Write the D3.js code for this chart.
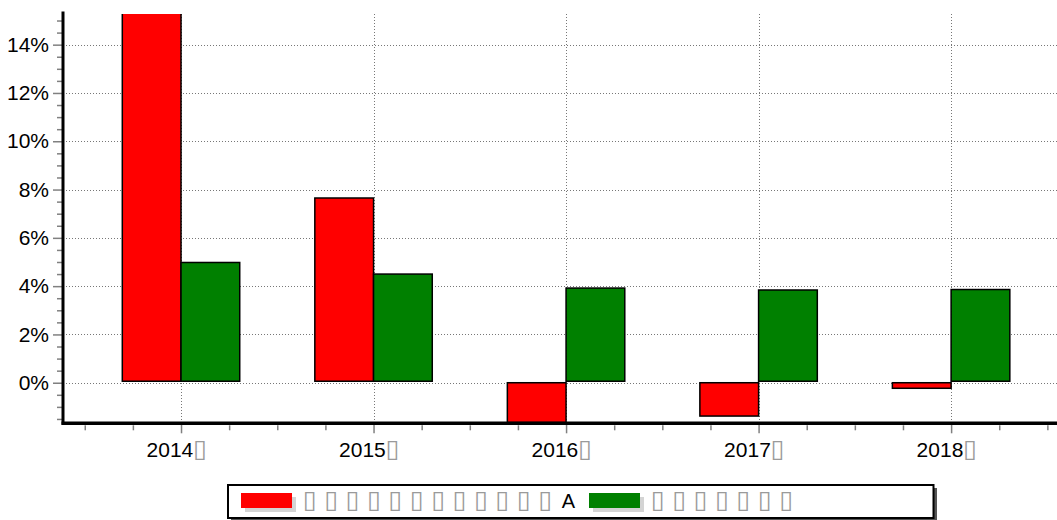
<!DOCTYPE html>
<html>
<head>
<meta charset="utf-8">
<script src="https://cdn.jsdelivr.net/npm/d3@7"></script>
<style>
    body { margin: 0; background: #fff; }
    text { font-family: "Liberation Sans", Arial, sans-serif; }
    .tofu { font-family: "DejaVu Sans", sans-serif; fill: #9a9a9a; }
</style>
</head>
<body>
<svg id="chart" width="1057" height="520"></svg>
<script>
// values (percent)
var years = [2014, 2015, 2016, 2017, 2018];
var seriesA = [18.0, 7.65, -1.65, -1.38, -0.23];   // red
var seriesB = [4.98, 4.5, 3.92, 3.84, 3.86];       // green
var yTicks = [0, 2, 4, 6, 8, 10, 12, 14];
var yearSuffix = "\u25AF";
var legendA = ["\u25AF", "\u25AF", "\u25AF", "\u25AF", "\u25AF", "\u25AF", "\u25AF", "\u25AF", "\u25AF", "\u25AF", "\u25AF", "\u25AF", "A"];
var legendB = ["\u25AF", "\u25AF", "\u25AF", "\u25AF", "\u25AF", "\u25AF", "\u25AF"];
var colors = ["#ff0000", "#008000"];

var plot = {left: 63, right: 1057, top: 14, bottom: 423.3};

var svg = d3.select("#chart");

var x = d3.scaleLinear()
    .domain([2013.387, 2018.55])
    .range([plot.left, plot.right]);

var y = d3.scaleLinear()
    .domain([-1.68, 15.27])
    .range([plot.bottom, plot.top]);

var barW = 0.305; // in years

svg.append("defs").append("clipPath")
    .attr("id", "clip")
    .append("rect")
    .attr("x", plot.left)
    .attr("y", plot.top)
    .attr("width", plot.right - plot.left)
    .attr("height", plot.bottom - plot.top);

// grid
var grid = svg.append("g")
    .attr("stroke", "#777")
    .attr("stroke-width", 1)
    .attr("stroke-dasharray", "1,2");

grid.selectAll(".hg")
    .data(yTicks)
    .enter()
    .append("line")
    .attr("x1", plot.left)
    .attr("x2", plot.right)
    .attr("y1", function(d) { return Math.round(y(d)) + 0.5; })
    .attr("y2", function(d) { return Math.round(y(d)) + 0.5; });

grid.selectAll(".vg")
    .data(years)
    .enter()
    .append("line")
    .attr("x1", function(d) { return Math.round(x(d)) + 0.5; })
    .attr("x2", function(d) { return Math.round(x(d)) + 0.5; })
    .attr("y1", plot.top)
    .attr("y2", plot.bottom);

// bars
var bars = svg.append("g").attr("clip-path", "url(#clip)");

[seriesA, seriesB].forEach(function(series, si) {
    bars.selectAll(".s" + si)
        .data(series)
        .enter()
        .append("rect")
        .attr("x", function(d, i) { return x(years[i] - barW + si * barW); })
        .attr("width", function(d, i) { return x(years[i] + barW) - x(years[i]); })
        .attr("y", function(d) { return d >= 0 ? y(d) : y(0); })
        .attr("height", function(d) { return d >= 0 ? y(0) - y(d) - 1.5 : y(d) - y(0); })
        .attr("fill", colors[si])
        .attr("stroke", "#000")
        .attr("stroke-width", 1.5);
});

// y axis
var minorY = d3.range(-1.5, 15.01, 0.5).filter(function(d) { return d % 2 !== 0; });

svg.append("g")
    .attr("transform", "translate(" + (plot.left - 1) + ",0)")
    .call(d3.axisLeft(y).tickValues(minorY).tickSize(5).tickFormat(""))
    .call(function(g) { g.select(".domain").remove(); })
    .selectAll("line").attr("stroke", "#808080").attr("stroke-width", 1.5);

var yAxis = svg.append("g")
    .attr("transform", "translate(" + (plot.left - 1) + ",0)")
    .call(d3.axisLeft(y).tickValues(yTicks).tickSize(9).tickPadding(4)
        .tickFormat(function(d) { return d + "%"; }));
yAxis.select(".domain").remove();
yAxis.selectAll("line").attr("stroke", "#808080").attr("stroke-width", 1.5);
yAxis.selectAll("text")
    .attr("font-size", 21)
    .attr("font-family", "Liberation Sans, Arial, sans-serif")
    .attr("fill", "#000");

// x axis
var minorX = d3.range(2013.5, 2018.51, 0.25).filter(function(d) { return d % 1 !== 0; });

svg.append("g")
    .attr("transform", "translate(0," + (plot.bottom + 2) + ")")
    .call(d3.axisBottom(x).tickValues(minorX).tickSize(5).tickFormat(""))
    .call(function(g) { g.select(".domain").remove(); })
    .selectAll("line").attr("stroke", "#808080").attr("stroke-width", 1.5);

var xAxis = svg.append("g")
    .attr("transform", "translate(0," + plot.bottom + ")")
    .call(d3.axisBottom(x).tickValues(years).tickSize(10).tickFormat(""));
xAxis.select(".domain").remove();
xAxis.selectAll("line").attr("stroke", "#808080").attr("stroke-width", 1.5);

var xLabels = xAxis.selectAll(".tick")
    .append("text")
    .attr("x", -35)
    .attr("y", 33.5)
    .attr("text-anchor", "start")
    .attr("font-size", 21)
    .attr("fill", "#000")
    .text(function(d) { return d; });
xLabels.append("tspan")
    .attr("class", "tofu")
    .attr("dx", 0)
    .attr("font-size", 25)
    .text(yearSuffix);

// axis lines
svg.append("line")
    .attr("x1", plot.left).attr("x2", plot.left)
    .attr("y1", 11.5).attr("y2", plot.bottom + 1.5)
    .attr("stroke", "#000").attr("stroke-width", 3);
svg.append("line")
    .attr("x1", plot.left - 1.5).attr("x2", plot.right)
    .attr("y1", plot.bottom).attr("y2", plot.bottom)
    .attr("stroke", "#000").attr("stroke-width", 3.5);

// legend
var legend = svg.append("g");
legend.append("rect")
    .attr("x", 231).attr("y", 488).attr("width", 706).attr("height", 40)
    .attr("fill", "#555");
legend.append("rect")
    .attr("x", 228).attr("y", 485).attr("width", 705.5).attr("height", 33)
    .attr("fill", "#fff").attr("stroke", "#000").attr("stroke-width", 2);

var items = [
    {x: 241, chars: legendA, step: 21.4},
    {x: 589, chars: legendB, step: 21.4}
];
items.forEach(function(it, i) {
    legend.append("rect")
        .attr("x", it.x + 4).attr("y", 497).attr("width", 51).attr("height", 15)
        .attr("fill", "#d4d4d4");
    legend.append("rect")
        .attr("x", it.x).attr("y", 493).attr("width", 51).attr("height", 15)
        .attr("fill", colors[i]);
    legend.selectAll(".lt" + i)
        .data(it.chars)
        .enter()
        .append("text")
        .attr("class", function(d) { return d === "A" ? "" : "tofu"; })
        .attr("x", function(d, j) { return it.x + (d === "A" ? 64 : 62) + j * it.step; })
        .attr("y", 507.7)
        .attr("font-size", function(d) { return d === "A" ? 20 : 25; })
        .attr("fill", "#000")
        .text(function(d) { return d; });
});
</script>
</body>
</html>
